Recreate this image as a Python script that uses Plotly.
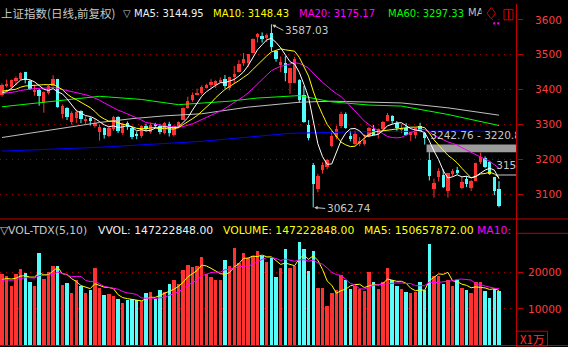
import plotly.graph_objects as go

W, H = 568, 347
PR = 517  # right edge of the plotting area (px)

# ---------------- data ----------------
opens = [3386,3412,3409,3425,3431,3450,3425,3395,3400,3362,
         3392,3410,3430,3330,3348,3307,3320,3338,3311,3318,
         3296,3278,3291,3268,3288,3321,3275,3305,3290,3273,
         3268,3297,3280,3302,3297,3277,3302,3270,3295,3314,
         3347,3371,3387,3392,3406,3414,3415,3423,3432,3405,
         3439,3450,3477,3478,3506,3550,3553,3547,3563,3511,
         3470,3478,3419,3420,3429,3385,3300,3185,3117,3170,
         3180,3240,3266,3296,3330,3268,3245,3246,3245,3268,
         3287,3274,3289,3310,3326,3306,3287,3292,3270,3270,
         3297,3275,3200,3117,3150,3155,3110,3160,3171,3120,
         3145,3118,3140,3194,3204,3192,3149,3117]
highs = [3418,3429,3429,3438,3450,3451,3430,3414,3402,3395,
         3414,3441,3431,3358,3350,3338,3343,3341,3324,3322,
         3316,3301,3292,3294,3325,3324,3306,3309,3293,3280,
         3298,3302,3306,3305,3302,3307,3308,3298,3309,3349,
         3380,3392,3403,3412,3417,3430,3427,3435,3442,3437,
         3468,3485,3505,3501,3547,3562,3564,3561,3587.03,3512,
         3495,3496,3463,3494,3430,3410,3313,3190,3159,3192,
         3202,3282,3297,3337,3335,3282,3283,3264,3272,3293,
         3299,3289,3310,3333,3327,3310,3301,3304,3282,3291,
         3305,3279,3220.8,3145,3175,3172,3161,3173,3179,3150,
         3152,3141,3191,3220,3209,3196,3150,3138]
lows = [3380,3406,3402,3413,3428,3418,3399,3383,3354,3334,
        3386,3408,3348,3317,3313,3300,3305,3304,3302,3297,
        3291,3254,3260,3264,3282,3276,3270,3285,3258,3258,
        3262,3280,3274,3290,3272,3272,3266,3266,3289,3314,
        3345,3365,3384,3385,3403,3406,3405,3419,3403,3398,
        3419,3449,3468,3465,3506,3535,3535,3536,3510,3480,
        3450,3424,3388,3419,3362,3305,3255,3062.74,3106,3160,
        3172,3235,3258,3290,3288,3252,3242,3238,3240,3263,
        3270,3260,3280,3309,3302,3282,3276,3269,3253,3260,
        3278,3242.76,3140,3091,3137,3118,3091,3151,3157,3115,
        3121,3110,3140,3187,3175,3155.6,3098,3063]
closes = [3413.57,3415.46,3427.79,3432.67,3447.84,3429.55,3402.52,3399.25,3382.91,3392.40,
          3410.50,3430.46,3351.92,3353.82,3322.23,3333.66,3337.86,3317.19,3317.62,3309.62,
          3303.68,3293.96,3272.05,3289.45,3322.20,3280.81,3303.04,3292.44,3266.14,3267.92,
          3296.54,3287.61,3300.06,3297.06,3280.46,3306.12,3275.78,3296.38,3307.17,3348.33,
          3369.11,3385.71,3391.75,3409.48,3413.90,3421.83,3425.34,3428.94,3410.49,3436.59,
          3444.67,3474.75,3487.86,3501.36,3546.50,3559.47,3548.31,3558.13,3523.00,3488.01,
          3480.83,3446.98,3462.08,3487.50,3370.65,3309.26,3262.05,3129.85,3154.13,3184.96,
          3199.16,3268.56,3289.02,3329.57,3292.07,3259.41,3273.75,3254.53,3256.93,3289.64,
          3271.67,3288.41,3307.17,3326.70,3310.24,3291.38,3291.11,3269.88,3279.25,3290.64,
          3280.95,3263.48,3152.76,3133.72,3166.65,3122.29,3160.53,3168.90,3163.18,3136.63,
          3131.11,3138.29,3190.32,3208.08,3180.16,3159.05,3110.65,3066.80]
# volume in units of 10000 (万)
volumes = [19580,19030,16300,19580,20850,19940,17210,16300,25410,18210,
           20130,21770,21860,16570,17030,14390,17940,16210,14390,15030,
           21220,15660,13660,13930,13480,12750,11660,12290,12750,12290,
           12020,14300,14570,12750,15030,14570,16660,17940,16850,20670,
           22130,21400,21860,24320,19580,18850,17940,17940,23500,21860,
           26680,22490,25230,23950,24590,25950,24590,22770,23950,18850,
           21220,26500,21220,21860,28410,26500,20490,25950,15750,15750,
           10650,14390,15030,19310,17760,15300,16120,15480,14840,20030,
           17210,15480,17300,21220,17940,16120,15480,14570,14390,14570,
           17210,15030,27780,19120,19120,16660,17760,16120,17940,15660,
           15030,14390,17300,17300,14900,12900,15506.65,14722.2848]
# closes / volumes before the first visible day (needed for the moving averages)
prior_closes = [3388.28,3386.10,3390.52,3378.47,3372.04,3381.79,3370.17,3378.65,3380.70,3388.25,
                3396.90,3407.57,3416.81,3390.34,3393.34,3395.91,3383.31,3371.74,3388.17]
prior_volumes = [17500,18000,17000,17800,18200,17500,17000,18500,17800]

# long moving averages (day index, value)
ma60_i = [0,10,21,30,38,49,55,64,71,79,86,96,107]
ma60_v = [3351,3366,3381,3372,3357,3367,3376,3383,3365,3356,3353,3329,3297.33]
ma120_i = [0,7,14,21,28,35,43,53,64,71,86,96,107]
ma120_v = [3263,3277,3291,3306,3317,3325,3331,3350,3364,3367,3362,3348,3327]
ma250_i = [0,21,43,62,75,99,107]
ma250_v = [3224,3235,3252,3275,3279,3282,3280]

# legend values printed in the volume header
vol_header = {"VVOL": 147222848.00, "VOLUME": 147222848.00, "MA5": 150657872.00}

price_ticks = [3100, 3200, 3300, 3400, 3500, 3600]
vol_ticks = [10000, 20000]
hi_idx, hi_val = 58, 3587.03
lo_idx, lo_val = 67, 3062.74
gap_idx, gap_top, gap_bot = 92, 3242.76, 3220.8
gap2_idx, gap2_top = 106, 3155.6

# ---------------- styling ----------------
RED, CYAN = "#ff3232", "#54fcfc"
AXIS = "#c00000"
GRID = "#a00000"
TXT = "#c8c8c8"
FONT = "DejaVu Sans"
CJK = "Noto Sans CJK SC"

# pixel geometry (layout only)
P_PX0, P_VAL0, P_SCALE = 16, 3600, 0.3533        # 3600 sits at y=16px, 0.3533 px per point
P_TOP_PX, P_BOT_PX = 14, 217
V_ZERO_PX, V_SCALE, V_TOP_PX = 345, 0.00366, 234

def pval(px):
    return P_VAL0 - (px - P_PX0) / P_SCALE

p_range = [pval(P_BOT_PX), pval(P_TOP_PX)]
v_range = [0, (V_ZERO_PX - V_TOP_PX) / V_SCALE]
SP = 4.645
x_range = [-2 / SP, -2 / SP + PR / SP]

N = len(closes)
idx = list(range(N))

def ma(series, n, off):
    return [sum(series[off + i - n + 1: off + i + 1]) / n for i in range(N)]

allc = prior_closes + closes
ma5 = ma(allc, 5, len(prior_closes))
ma10 = ma(allc, 10, len(prior_closes))
ma20 = ma(allc, 20, len(prior_closes))
allv = prior_volumes + volumes
vma5 = ma(allv, 5, len(prior_volumes))
vma10 = ma(allv, 10, len(prior_volumes))

up = [c >= o for o, c in zip(opens, closes)]
ccol = [RED if u else CYAN for u in up]

fig = go.Figure()

# candle bodies
fig.add_trace(go.Bar(
    x=idx, base=[min(o, c) for o, c in zip(opens, closes)],
    y=[max(abs(c - o), 2.5) for o, c in zip(opens, closes)],
    width=0.72, marker=dict(color=ccol, line=dict(width=0)),
    xaxis="x", yaxis="y", hoverinfo="skip"))
# wicks
for want, col in ((True, RED), (False, CYAN)):
    wx, wy = [], []
    for i in idx:
        if up[i] == want:
            wx += [i, i, None]
            wy += [lows[i], highs[i], None]
    fig.add_trace(go.Scatter(x=wx, y=wy, mode="lines", line=dict(color=col, width=1),
                             xaxis="x", yaxis="y", hoverinfo="skip"))

# moving averages
for xs, ys, col in ((ma250_i, ma250_v, "#0000ff"), (ma120_i, ma120_v, "#c0c0c0"),
                    (ma60_i, ma60_v, "#00ff00"), (idx, ma20, "#ff00ff"),
                    (idx, ma10, "#ffff00"), (idx, ma5, "#ffffff")):
    fig.add_trace(go.Scatter(x=xs, y=ys, mode="lines", line=dict(color=col, width=1),
                             xaxis="x", yaxis="y", hoverinfo="skip"))

# gap labels (clipped by the plot area)
fig.add_trace(go.Scatter(
    x=[gap_idx + 0.2, gap2_idx + 0.4], y=[pval(133.5), pval(164)],
    text=[f"{gap_top:.2f} - {gap_bot:.1f}", f"{gap2_top:.1f}"],
    mode="text", textposition="middle right", cliponaxis=True,
    textfont=dict(family=FONT, size=10.5, color=TXT),
    xaxis="x", yaxis="y", hoverinfo="skip"))

# volume
fig.add_trace(go.Bar(x=idx, y=volumes, width=0.74, marker=dict(color=ccol, line=dict(width=0)),
                     xaxis="x2", yaxis="y2", hoverinfo="skip"))
fig.add_trace(go.Scatter(x=idx, y=vma5, mode="lines", line=dict(color="#ffff00", width=1),
                         xaxis="x2", yaxis="y2", hoverinfo="skip"))
fig.add_trace(go.Scatter(x=idx, y=vma10, mode="lines", line=dict(color="#ff00ff", width=1),
                         xaxis="x2", yaxis="y2", hoverinfo="skip"))

# header clipped item
fig.add_trace(go.Scatter(x=[468], y=[9.5], text=["MA120"], mode="text",
                         textposition="middle right", cliponaxis=True,
                         textfont=dict(family=FONT, size=10, color="#c0c0c0"),
                         xaxis="x3", yaxis="y3", hoverinfo="skip"))

def fx(px):
    return px / PR

def fy(px):
    return 1 - px / H

annotations = []
def ann(text, xpx, ypx, color, size=10, family=FONT, xanchor="left"):
    annotations.append(dict(text=text, x=fx(xpx), y=fy(ypx), xref="paper", yref="paper",
                            xanchor=xanchor, yanchor="middle", showarrow=False,
                            font=dict(family=family, size=size, color=color)))

# header legend
ann("上证指数(日线,前复权)", -1, 9.5, TXT, size=11.5, family=CJK)
ann("▽", 121, 9.5, TXT, size=10)
ann(f"MA5: {ma5[-1]:.2f}", 132, 9.5, "#f0f0f0")
ann(f"MA10: {ma10[-1]:.2f}", 211, 9.5, "#ffff00")
ann(f"MA20: {ma20[-1]:.2f}", 297, 9.5, "#ff00ff")
ann(f"MA60: {ma60_v[-1]:.2f}", 386, 9.5, "#00ff00")

# volume legend
ann("▽", -2, 229, TXT, size=11)
ann("VOL-TDX(5,10)", 6, 229, TXT, size=10.8)
ann(f"VVOL: {vol_header['VVOL']:.2f}", 96, 229, "#f0f0f0", size=10.8)
ann(f"VOLUME: {vol_header['VOLUME']:.2f}", 221, 229, "#ffff00", size=10.8)
ann(f"MA5: {vol_header['MA5']:.2f}", 362, 229, "#ffff00", size=10.8)
ann("MA10:", 475, 229, "#ff00ff", size=10.8)

# X1万
ann("X1万", 531.5, 338.5, RED, size=11.5, family=CJK, xanchor="center")

# high / low markers
for xi, yv in ((hi_idx, hi_val), (lo_idx, lo_val)):
    annotations.append(dict(x=xi, y=yv, xref="x", yref="y", text=f"{yv:.2f}",
                            showarrow=True, ax=12, ay=6 if xi == hi_idx else 1,
                            xanchor="left", yanchor="middle",
                            arrowcolor=TXT, arrowhead=2, arrowsize=0.7, arrowwidth=1, standoff=1,
                            font=dict(family=FONT, size=10.5, color=TXT)))

shapes = []
def line_px(x0, y0, x1, y1, color=AXIS, width=1):
    shapes.append(dict(type="line", xref="paper", yref="paper", x0=fx(x0), x1=fx(x1),
                       y0=fy(y0), y1=fy(y1), line=dict(color=color, width=width), layer="above"))

line_px(516.5, 0, 516.5, H)          # right axis line
line_px(0, 217.5, W, 217.5)          # panel separator
line_px(516.5, 232, W, 232)
line_px(0, 345.5, W, 345.5)          # bottom
# X1万 box
shapes.append(dict(type="rect", xref="paper", yref="paper", x0=fx(516.5), x1=fx(547.5),
                   y0=fy(346), y1=fy(331), line=dict(color=AXIS, width=1), layer="above"))
# icons top-right
shapes.append(dict(type="path", xref="paper", yref="paper",
                   path=f"M {fx(491.3)},{fy(3.5)} L {fx(495.5)},{fy(9.3)} L {fx(491.3)},{fy(15)} L {fx(487)},{fy(9.3)} Z",
                   line=dict(color="#d00000", width=1), layer="above"))
shapes.append(dict(type="rect", xref="paper", yref="paper", x0=fx(504), x1=fx(513),
                   y0=fy(16), y1=fy(5.5), line=dict(color="#d00000", width=1), layer="above"))
line_px(508.6, 5.5, 508.6, 16, color="#d00000")
for dx in (493.3, 497.3):
    shapes.append(dict(type="rect", xref="paper", yref="paper", x0=fx(dx), x1=fx(dx + 2),
                       y0=fy(20.7), y1=fy(18.5), fillcolor="#ff00ff", line=dict(width=0), layer="above"))
# gap box
shapes.append(dict(type="rect", xref="x", yref="y", x0=gap_idx - 0.6, x1=x_range[1] + 1,
                   y0=gap_bot, y1=gap_top, fillcolor="#9c9c9c", line=dict(width=0), layer="below"))
shapes.append(dict(type="line", xref="x", yref="y", x0=gap2_idx + 0.3, x1=x_range[1] + 1,
                   y0=gap2_top, y1=gap2_top, line=dict(color="#c8c8c8", width=1), layer="below"))

yaxis_common = dict(side="right", showline=False, ticks="outside", ticklen=5, tickcolor=AXIS,
                    tickwidth=1, tickfont=dict(family=FONT, size=10.5, color="#ff3c3c"),
                    showgrid=True, gridcolor=GRID, gridwidth=1, griddash="1px,5px",
                    zeroline=False, fixedrange=True)

fig.update_layout(
    width=W, height=H, margin=dict(l=0, r=W - PR, t=0, b=0, pad=0),
    paper_bgcolor="black", plot_bgcolor="black", showlegend=False,
    bargap=0, barmode="overlay",
    xaxis=dict(domain=[0, 1], range=x_range, visible=False, anchor="y"),
    xaxis2=dict(domain=[0, 1], range=x_range, visible=False, anchor="y2"),
    xaxis3=dict(domain=[0, 481.5 / PR], range=[0, 481.5], visible=False, anchor="y3"),
    yaxis=dict(domain=[fy(P_BOT_PX), fy(P_TOP_PX)], range=p_range, anchor="x",
               tickvals=price_ticks, ticktext=[str(v) for v in price_ticks],
               ticklabelstandoff=10, **yaxis_common),
    yaxis2=dict(domain=[fy(V_ZERO_PX), fy(V_TOP_PX)], range=v_range, anchor="x2",
                tickvals=vol_ticks, ticktext=[str(v) for v in vol_ticks],
                ticklabelstandoff=3, **yaxis_common),
    yaxis3=dict(domain=[fy(18), 1], range=[18, 0], visible=False, anchor="x3"),
    annotations=annotations, shapes=shapes,
)

fig.write_html("out.html")
